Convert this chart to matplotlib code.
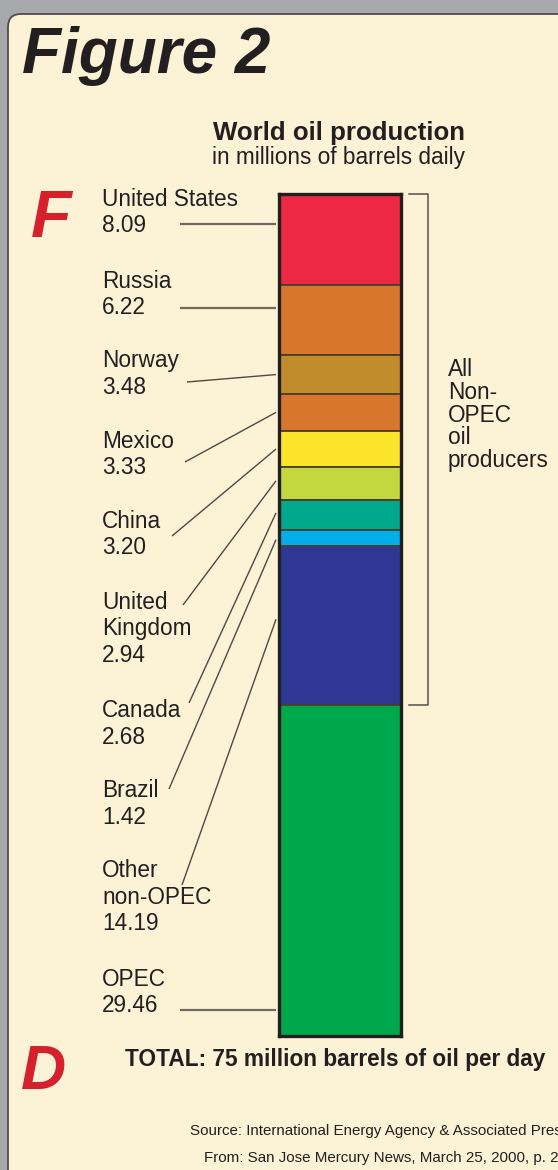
import matplotlib
matplotlib.use("Agg")
import matplotlib.pyplot as plt
from matplotlib.patches import FancyBboxPatch
import matplotlib.transforms as mtransforms
import numpy as np

# ---------------- data ----------------
countries = ["United States", "Russia", "Norway", "Mexico", "China",
             "United\nKingdom", "Canada", "Brazil", "Other\nnon-OPEC", "OPEC"]
production = [8.09, 6.22, 3.48, 3.33, 3.20, 2.94, 2.68, 1.42, 14.19, 29.46]
colors = ["#EC2843", "#D8762E", "#C08C2C", "#D8762E", "#FCE42A",
          "#C2D83E", "#00A88C", "#00AEEC", "#2E3894", "#00A84C"]
non_opec_count = 9
total_label = "TOTAL: 75 million barrels of oil per day"

# ---------------- layout ----------------
W, H = 558, 1170
FONT = "Liberation Sans"
TXT = "#231F20"
fig = plt.figure(figsize=(W / 100, H / 100), dpi=100)
fig.patch.set_facecolor("#A7A8AC")

bg = fig.add_axes([0, 0, 1, 1])
bg.set_xlim(0, W)
bg.set_ylim(H, 0)
bg.axis("off")

panel = FancyBboxPatch((8, 14), 700, 1200,
                       boxstyle="round,pad=0,rounding_size=13",
                       facecolor="#FCF2D5", edgecolor="#4D4D4D", lw=1.3)
bg.add_patch(panel)

# bar axes
bar_left, bar_right, bar_top, bar_bottom = 279, 401, 194, 1036
ax = fig.add_axes([bar_left / W, 1 - bar_bottom / H,
                   (bar_right - bar_left) / W, (bar_bottom - bar_top) / H])
total = float(np.sum(production))
bottoms = np.concatenate([[0], np.cumsum(production)[:-1]])
ax.bar([0] * len(production), production, bottom=bottoms, width=1.0,
       color=colors, edgecolor="#4A3E30", linewidth=1.3)
ax.set_xlim(-0.5, 0.5)
ax.set_ylim(total, 0)
ax.set_xticks([])
ax.set_yticks([])
for s in ax.spines.values():
    s.set_color(TXT)
    s.set_linewidth(2.4)

# titles
bg.text(22, 73, "Figure 2", fontsize=46, fontweight="bold", fontstyle="italic",
        family=FONT, color=TXT, ha="left", va="baseline")
bg.text(339, 140, "World oil production", fontsize=18.6, fontweight="bold",
        family=FONT, color=TXT, ha="center", va="baseline")
bg.text(339, 164, "in millions of barrels daily", fontsize=16.3,
        family=FONT, color=TXT, ha="center", va="baseline")
bg.text(31, 237, "F", fontsize=48, fontweight="bold", fontstyle="italic",
        family=FONT, color="#D6202C", ha="left", va="baseline")
bg.text(21, 1089, "D", fontsize=45, fontweight="bold", fontstyle="italic",
        family=FONT, color="#D6202C", ha="left", va="baseline")
bg.text(335, 1066, total_label, fontsize=16.3, fontweight="bold",
        family=FONT, color=TXT, ha="center", va="baseline")
bg.text(190, 1135, "Source: International Energy Agency & Associated Press",
        fontsize=10.9, family=FONT, color=TXT, ha="left", va="baseline")
bg.text(204, 1162, "From: San Jose Mercury News, March 25, 2000, p. 2A",
        fontsize=10.9, family=FONT, color=TXT, ha="left", va="baseline")

# labels
label_x = 102
label_baselines = [206, 288, 367, 448, 528, 609, 717, 797, 877, 986]
line_step = 26.5
leader_start = [(180, 224), (180, 308), (187, 382), (185, 462), (172, 536),
                (183, 605), (189, 703), (169, 789), (182, 885), (180, 1010)]
anchor_frac = [0.33, 0.332, 0.51, 0.5, 0.5, 0.42, 0.43, 0.6, 0.46, 0.922]

to_bg = bg.transData.inverted()
for i, (name, val) in enumerate(zip(countries, production)):
    lines = name.split("\n") + [f"{val:.2f}"]
    for j, ln in enumerate(lines):
        bg.text(label_x, label_baselines[i] + j * line_step, ln, fontsize=16.3,
                family=FONT, color=TXT, ha="left", va="baseline")
    y_data = bottoms[i] + anchor_frac[i] * val
    ex, ey = to_bg.transform(ax.transData.transform((-0.5, y_data)))
    sx, sy = leader_start[i]
    horiz = i in (0, 1, len(production) - 1)
    if horiz:
        sy = ey
    bg.plot([sx, ex - 3], [sy, ey],
            color="#6E6A62" if horiz else "#4E4A44",
            lw=1.6 if horiz else 1.0, solid_capstyle="butt")

# bracket for non-OPEC producers
blend = mtransforms.blended_transform_factory(bg.transData, ax.transData)
non_opec_total = float(np.sum(production[:non_opec_count]))
bg.plot([409, 428, 428, 409], [0, 0, non_opec_total, non_opec_total],
        transform=blend, color="#55524C", lw=1.1, clip_on=False)
for j, ln in enumerate(["All", "Non-", "OPEC", "oil", "producers"]):
    bg.text(448, 376 + j * 22.8, ln, fontsize=16.3, family=FONT, color=TXT,
            ha="left", va="baseline")

fig.savefig("out.png", dpi=100, facecolor=fig.get_facecolor())
